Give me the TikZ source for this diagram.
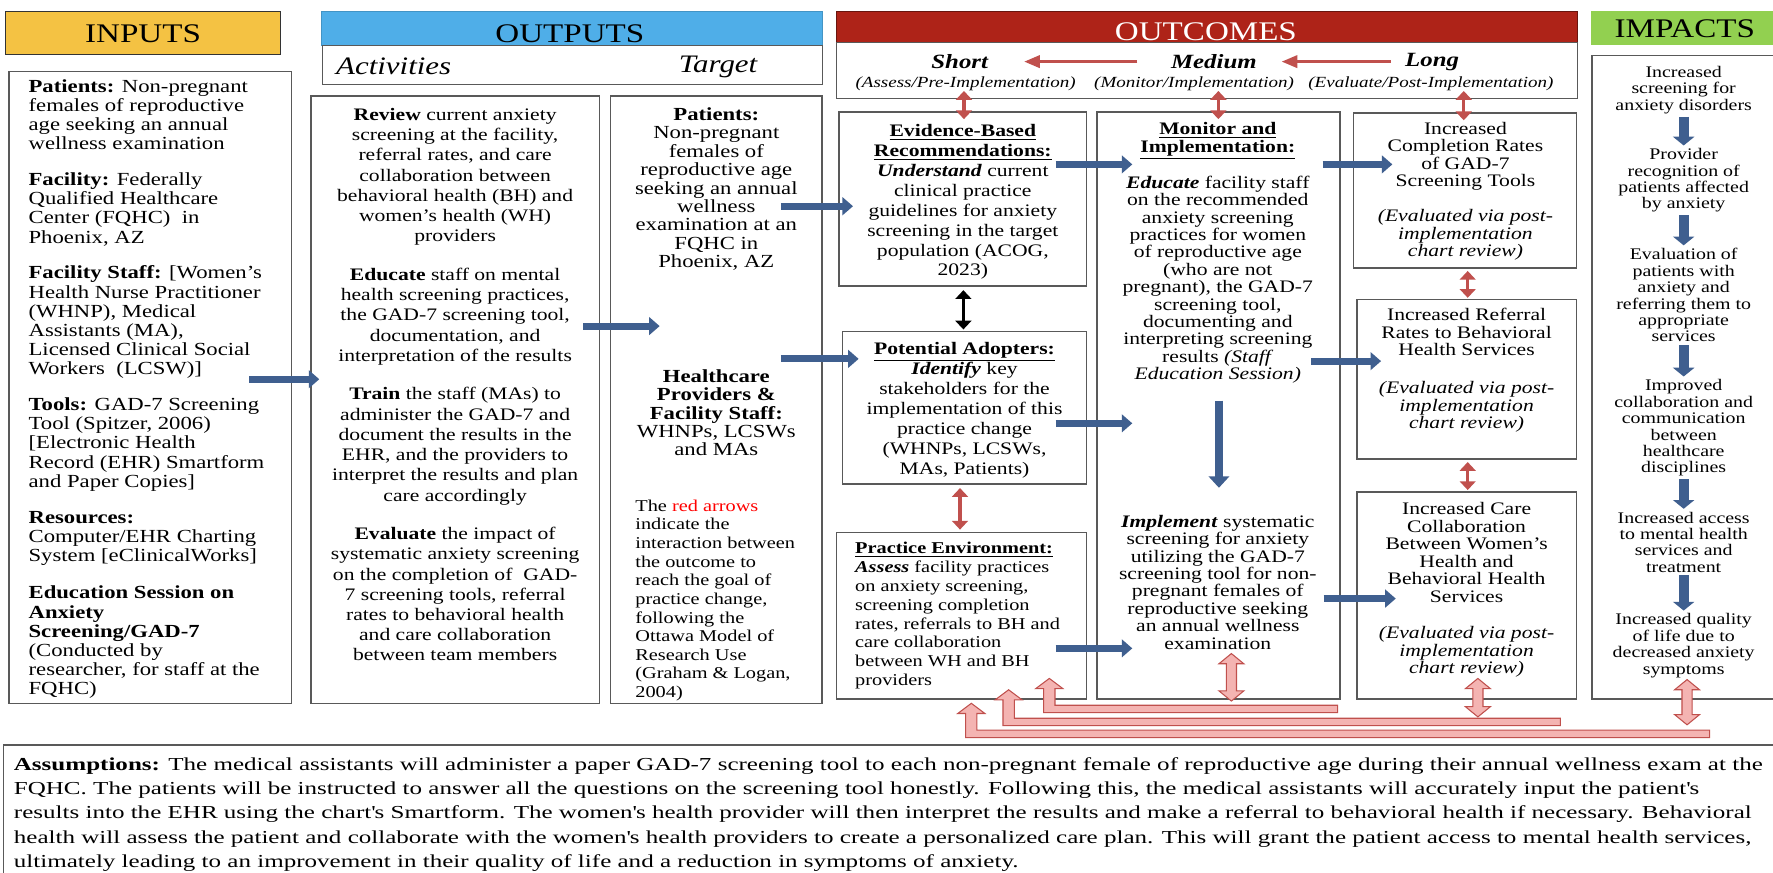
\documentclass[tikz,border=0pt]{standalone}
\usepackage{fontspec}
\setmainfont{Liberation Serif}[FakeStretch=1.23]
\newfontfamily\asmfont{Liberation Serif}[FakeStretch=1.37]
\usepackage{tikz}
\usetikzlibrary{arrows.meta}
\definecolor{inyel}{HTML}{F4C243}
\definecolor{outblu}{HTML}{4FAEE8}
\definecolor{ocred}{HTML}{AE2318}
\definecolor{imgrn}{HTML}{92D050}
\definecolor{arrblue}{HTML}{3F5F8F}
\definecolor{arrred}{HTML}{C0504D}
\definecolor{pinkfill}{HTML}{F4B4B2}
\newlength{\dpx}\setlength{\dpx}{0.02261cm}
\newcommand{\fsz}[2]{\fontsize{#1}{#2}\selectfont}
% feedback arrows: shaft x, tip y, bar y, bar end x
\newcommand{\hollowel}[4]{%
  \filldraw[hollow] (#1-5,#3+3.3) -- (#4,#3+3.3) -- (#4,#3-3.3) -- (#1+5,#3-3.3)
    -- (#1+5,#2+9) -- (#1+12,#2+9) -- (#1,#2) -- (#1-12,#2+9) -- (#1-5,#2+9) -- cycle;}
% two-headed block arrow: x, top y, bottom y
\newcommand{\hollowdbl}[3]{%
  \filldraw[hollow] (#1-4.5,#2+9) -- (#1-11,#2+9) -- (#1,#2) -- (#1+11,#2+9) -- (#1+4.5,#2+9)
    -- (#1+4.5,#3-9) -- (#1+11,#3-9) -- (#1,#3) -- (#1-11,#3-9) -- (#1-4.5,#3-9) -- cycle;}

\begin{document}
\begin{tikzpicture}[x=0.02261cm, y=-0.02261cm,
    box/.style={draw=black!65, line width=0.8pt, inner sep=0pt},
    hdr/.style={line width=0.6pt, inner sep=0pt},
    hlbl/.style={inner sep=0pt, font=\fsz{15.3}{16}},
    txt/.style={inner sep=0pt, anchor=north, align=center},
    ltxt/.style={inner sep=0pt, anchor=north west, align=left},
    bluearr/.style={draw=arrblue, line width=4pt, -{Triangle[length=6pt,width=10pt]}},
    bigdown/.style={draw=arrblue, line width=5pt, -{Triangle[length=6.5pt,width=11.5pt]}},
    impdown/.style={draw=arrblue, line width=5.5pt, -{Triangle[length=5pt,width=12pt]},
                    shorten <=1.5pt, shorten >=1.5pt},
    redarr/.style={draw=arrred, line width=1.7pt, -{Triangle[length=9pt,width=7pt]}},
    reddbl/.style={draw=arrred, line width=1.8pt,
                   {Triangle[length=5pt,width=9pt]}-{Triangle[length=5pt,width=9pt]}},
    blkdbl/.style={draw=black, line width=1.6pt,
                   {Triangle[length=5pt,width=9pt]}-{Triangle[length=5pt,width=9pt]}},
    hollow/.style={draw=arrred, line width=0.6pt, fill=pinkfill}
  ]
  \path[use as bounding box, fill=white] (0,0) rectangle (1568,772);

  % Column headers
  \node[hdr, draw=black!80, fill=inyel, minimum width=243\dpx, minimum height=38\dpx] (inhd) at (126.5,29) {};
  \node[hlbl] (inlbl) at (126.5,30) {INPUTS};
  \node[hdr, draw=outblu!85!black, fill=outblu, minimum width=443\dpx, minimum height=30\dpx] (outhd) at (505.5,25) {};
  \node[hdr, draw=black!65, fill=white, minimum width=442\dpx, minimum height=35\dpx] (outsub) at (506,57.5) {};
  \node[hlbl] (outlbl) at (504,29.5) {OUTPUTS};
  \node[inner sep=0pt, anchor=west, font=\fsz{14.3}{15}] (acthd) at (297,59) {\textit{Activities}};
  \node[inner sep=0pt, anchor=west, font=\fsz{14.3}{15}] (tgthd) at (600,59) {\textit{Target}};
  \node[hdr, draw=ocred!60!black, fill=ocred, minimum width=655\dpx, minimum height=28\dpx] (ochd) at (1067.5,24) {};
  \node[hdr, draw=black!65, fill=white, minimum width=655\dpx, minimum height=49\dpx] (ocsub) at (1067.5,62.5) {};
  \node[hlbl, text=white] (oclbl) at (1066.5,28) {OUTCOMES};
  \node[hdr, fill=imgrn, minimum width=168\dpx, minimum height=30\dpx] (imhd) at (1491,25) {};
  \node[hlbl] (imlbl) at (1490,25) {IMPACTS};

  % Short / Medium / Long
  \node[inner sep=0pt, font=\fsz{11.5}{12}] (short) at (849,54.5) {\textbf{\textit{Short}}};
  \node[inner sep=0pt, font=\fsz{11.5}{12}] (medium) at (1073.5,54.5) {\textbf{\textit{Medium}}};
  \node[inner sep=0pt, font=\fsz{11.5}{12}] (long) at (1266.5,54.5) {\textbf{\textit{Long}}};
  \node[inner sep=0pt, font=\fsz{8.8}{9}] (assess) at (854,73.7) {\textit{(Assess/Pre-Implementation)}};
  \node[inner sep=0pt, font=\fsz{8.8}{9}] (monit) at (1056,73.7) {\textit{(Monitor/Implementation)}};
  \node[inner sep=0pt, font=\fsz{8.8}{9}] (evalu) at (1265.5,73.7) {\textit{(Evaluate/Post-Implementation)}};
  \draw[redarr, shorten <=19pt, shorten >=20pt] (medium.west) -- (medium.west -| short.east);
  \draw[redarr, shorten <=8pt, shorten >=14pt] (long.west |- medium.west) -- (medium.east);

  % Boxes
  \node[box, minimum width=250\dpx, minimum height=559\dpx] (inp) at (133,342.5) {};
  \node[box, minimum width=255\dpx, minimum height=537\dpx] (act) at (402.5,353.5) {};
  \node[box, minimum width=187\dpx, minimum height=537\dpx] (tgt) at (633.5,353.5) {};
  \node[box, minimum width=219\dpx, minimum height=154\dpx] (ebr) at (851.5,176) {};
  \node[box, minimum width=216\dpx, minimum height=135\dpx] (pad) at (853,360.5) {};
  \node[box, minimum width=221\dpx, minimum height=147\dpx] (pen) at (850.5,544.5) {};
  \node[box, minimum width=215\dpx, minimum height=519\dpx] (mon) at (1077.5,358.5) {};
  \node[box, minimum width=197\dpx, minimum height=137\dpx] (lc1) at (1295.5,168.5) {};
  \node[box, minimum width=194\dpx, minimum height=141\dpx] (lc2) at (1297,335.5) {};
  \node[box, minimum width=194\dpx, minimum height=183\dpx] (lc3) at (1297,526.5) {};
  \node[box, minimum width=172\dpx, minimum height=569\dpx] (imp) at (1494,333.5) {};
  \node[box, minimum width=1587\dpx, minimum height=141\dpx] (asm) at (796.5,729.5) {};

  % Inputs
  \node[ltxt, font=\fsz{10.5}{10.9}] (inptx) at (25,70) {%
    \textbf{Patients:} Non-pregnant\\
    females of reproductive\\
    age seeking an annual\\
    wellness examination\\[9.5pt]
    \textbf{Facility:} Federally\\
    Qualified Healthcare\\
    Center (FQHC)\ \ in\\
    Phoenix, AZ\\[9.5pt]
    \textbf{Facility Staff:} {[}Women’s\\
    Health Nurse Practitioner\\
    (WHNP), Medical\\
    Assistants (MA),\\
    Licensed Clinical Social\\
    Workers\ \ (LCSW)]\\[9.5pt]
    \textbf{Tools:} GAD-7 Screening\\
    Tool (Spitzer, 2006)\\
    {[}Electronic Health\\
    Record (EHR) Smartform\\
    and Paper Copies]\\[9.5pt]
    \textbf{Resources:}\\
    Computer/EHR Charting\\
    System {[}eClinicalWorks]\\[10.5pt]
    \textbf{Education Session on}\\
    \textbf{Anxiety}\\
    \textbf{Screening/GAD-7}\\
    (Conducted by\\
    researcher, for staff at the\\
    FQHC)};

  % Activities
  \node[txt, font=\fsz{10}{11.5}] (acttx) at (402.5,95.5) {%
    \textbf{Review} current anxiety\\
    screening at the facility,\\
    referral rates, and care\\
    collaboration between\\
    behavioral health (BH) and\\
    women’s health (WH)\\
    providers\\[10.5pt]
    \textbf{Educate} staff on mental\\
    health screening practices,\\
    the GAD-7 screening tool,\\
    documentation, and\\
    interpretation of the results\\[10.5pt]
    \textbf{Train} the staff (MAs) to\\
    administer the GAD-7 and\\
    document the results in the\\
    EHR, and the providers to\\
    interpret the results and plan\\
    care accordingly\\[10.5pt]
    \textbf{Evaluate} the impact of\\
    systematic anxiety screening\\
    on the completion of\ \ GAD-\\
    7 screening tools, referral\\
    rates to behavioral health\\
    and care collaboration\\
    between team members};

  % Target
  \node[txt, font=\fsz{10.5}{10.45}] (tgttx) at (633.5,95) {%
    \textbf{Patients:}\\ Non-pregnant\\ females of\\ reproductive age\\
    seeking an annual\\ wellness\\ examination at an\\ FQHC in\\ Phoenix, AZ};
  \node[txt, font=\fsz{10.5}{10.45}] (stafftx) at (633.5,326.5) {%
    \textbf{Healthcare}\\ \textbf{Providers \&}\\ \textbf{Facility Staff:}\\
    WHNPs, LCSWs\\ and MAs};
  \node[ltxt, font=\fsz{9.4}{10.6}] (notetx) at (561.6,441.7) {%
    The \textcolor{red}{red arrows}\\ indicate the\\ interaction between\\
    the outcome to\\ reach the goal of\\ practice change,\\ following the\\
    Ottawa Model of\\ Research Use\\ (Graham \& Logan,\\ 2004)};

  % Short-term outcomes
  \node[txt, font=\fsz{10}{11.35}] (ebrtx) at (851.5,109.5) {%
    \underline{\textbf{Evidence-Based}}\\ \underline{\textbf{Recommendations:}}\\
    \textbf{\textit{Understand}} current\\ clinical practice\\ guidelines for anxiety\\
    screening in the target\\ population (ACOG,\\ 2023)};
  \node[txt, font=\fsz{10}{11.35}] (padtx) at (853,302.5) {%
    \underline{\textbf{Potential Adopters:}}\\ \textbf{\textit{Identify}} key\\
    stakeholders for the\\ implementation of this\\ practice change\\
    (WHNPs, LCSWs,\\ MAs, Patients)};
  \node[ltxt, font=\fsz{9.4}{10.75}] (pentx) at (756,479) {%
    \underline{\textbf{Practice Environment:}}\\ \textbf{\textit{Assess}} facility practices\\
    on anxiety screening,\\ screening completion\\ rates, referrals to BH and\\
    care collaboration\\ between WH and BH\\ providers};

  % Medium-term outcomes
  \node[txt, font=\fsz{10}{9.9}] (montx) at (1077,108) {%
    \underline{\textbf{Monitor and}}\\ \underline{\textbf{Implementation:}}\\[8.5pt]
    \textbf{\textit{Educate}} facility staff\\ on the recommended\\ anxiety screening\\
    practices for women\\ of reproductive age\\ (who are not\\ pregnant), the GAD-7\\
    screening tool,\\ documenting and\\ interpreting screening\\
    results \textit{(Staff}\\ \textit{Education Session)}};
  \node[txt, font=\fsz{10}{9.95}] (impltx) at (1077,455) {%
    \textbf{\textit{Implement}} systematic\\ screening for anxiety\\ utilizing the GAD-7\\
    screening tool for non-\\ pregnant females of\\ reproductive seeking\\
    an annual wellness\\ examination};

  % Long-term outcomes
  \node[txt, font=\fsz{10}{9.95}] (lc1tx) at (1296,107.5) {%
    Increased\\ Completion Rates\\ of GAD-7\\ Screening Tools\\[10pt]
    \textit{(Evaluated via post-}\\ \textit{implementation}\\ \textit{chart review)}};
  \node[txt, font=\fsz{10}{9.95}] (lc2tx) at (1297,272.5) {%
    Increased Referral\\ Rates to Behavioral\\ Health Services\\[11.5pt]
    \textit{(Evaluated via post-}\\ \textit{implementation}\\ \textit{chart review)}};
  \node[txt, font=\fsz{10}{9.95}] (lc3tx) at (1297,444) {%
    Increased Care\\ Collaboration\\ Between Women’s\\ Health and\\
    Behavioral Health\\ Services\\[11pt]
    \textit{(Evaluated via post-}\\ \textit{implementation}\\ \textit{chart review)}};

  % Impacts
  \node[txt, font=\fsz{9.2}{9.35}] (i1) at (1489,58.3) {Increased\\ screening for\\ anxiety disorders};
  \node[txt, font=\fsz{9.2}{9.35}] (i2) at (1489,131) {Provider\\ recognition of\\ patients affected\\ by anxiety};
  \node[txt, font=\fsz{9.2}{9.35}] (i3) at (1489,219.3) {Evaluation of\\ patients with\\ anxiety and\\ referring them to\\ appropriate\\ services};
  \node[txt, font=\fsz{9.2}{9.35}] (i4) at (1489,335.3) {Improved\\ collaboration and\\ communication\\ between\\ healthcare\\ disciplines};
  \node[txt, font=\fsz{9.2}{9.35}] (i5) at (1489,452.3) {Increased access\\ to mental health\\ services and\\ treatment};
  \node[txt, font=\fsz{9.2}{9.35}] (i6) at (1489,542.3) {Increased quality\\ of life due to\\ decreased anxiety\\ symptoms};
  \foreach \a/\b in {i1/i2, i2/i3, i3/i4, i4/i5, i5/i6}
    \draw[impdown] (\a.south) -- (\b.north);

  % Blue arrows between columns
  \draw[bluearr] ([shift={(-38,273)}]inp.north east) -- ([shift={(8,251)}]act.north west);
  \draw[bluearr] ([shift={(-15,204)}]act.north east) -- ([shift={(44,204)}]tgt.north west);
  \draw[bluearr] ([shift={(-37,98)}]tgt.north east) -- ([shift={(13,84)}]ebr.north west);
  \draw[bluearr] ([shift={(-37,233)}]tgt.north east) -- ([shift={(15,25)}]pad.north west);
  \draw[bluearr] ([shift={(-28,47)}]ebr.north east) -- ([shift={(32,47)}]mon.north west);
  \draw[bluearr] ([shift={(-28,82)}]pad.north east) -- ([shift={(32,276)}]mon.north west);
  \draw[bluearr] ([shift={(-28,103)}]pen.north east) -- ([shift={(32,475)}]mon.north west);
  \draw[bluearr] ([shift={(-16,47)}]mon.north east) -- ([shift={(35,46)}]lc1.north west);
  \draw[bluearr] ([shift={(-26,221)}]mon.north east) -- ([shift={(22,55)}]lc2.north west);
  \draw[bluearr] ([shift={(-15,431)}]mon.north east) -- ([shift={(35,95)}]lc3.north west);
  \draw[bigdown] ([shift={(0.5,256)}]mon.north) -- ([shift={(0.5,333)}]mon.north);

  % Red links between outcomes
  \draw[reddbl] ([shift={(1,-7)}]ebr.north |- ocsub.south) -- ([shift={(1,7)}]ebr.north);
  \draw[reddbl] ([shift={(0,-7)}]mon.north |- ocsub.south) -- ([shift={(0,7)}]mon.north);
  \draw[reddbl] ([shift={(-1,-7)}]lc1.north |- ocsub.south) -- ([shift={(-1,7)}]lc1.north);
  \draw[blkdbl] ([shift={(0.5,3)}]ebr.south) -- ([shift={(-1,-1)}]pad.north);
  \draw[reddbl] ([shift={(-4,3)}]pad.south) -- ([shift={(-1.5,-2)}]pen.north);
  \draw[reddbl] ([shift={(2.5,2)}]lc1.south) -- ([shift={(1,-1)}]lc2.north);
  \draw[reddbl] ([shift={(1,2)}]lc2.south) -- ([shift={(1,-1)}]lc3.north);

  % Feedback arrows along the bottom
  \hollowel{859}{622}{649}{1512}
  \hollowel{892}{610}{638.5}{1380}
  \hollowel{928}{600}{627}{1183}
  \hollowdbl{1089}{578}{620}
  \hollowdbl{1307}{600}{634}
  \hollowdbl{1492}{601}{641}

  % Assumptions
  \node[ltxt, font=\asmfont\fsz{10.4}{13.8}] (asmtx) at (12,669.5) {%
    \textbf{Assumptions:} The medical assistants will administer a paper GAD-7 screening tool to each non-pregnant female of reproductive age during their annual wellness exam at the\\
    FQHC. The patients will be instructed to answer all the questions on the screening tool honestly. Following this, the medical assistants will accurately input the patient\textquotesingle s\\
    results into the EHR using the chart\textquotesingle s Smartform. The women\textquotesingle s health provider will then interpret the results and make a referral to behavioral health if necessary. Behavioral\\
    health will assess the patient and collaborate with the women\textquotesingle s health providers to create a personalized care plan. This will grant the patient access to mental health services,\\
    ultimately leading to an improvement in their quality of life and a reduction in symptoms of anxiety.};
\end{tikzpicture}
\end{document}
